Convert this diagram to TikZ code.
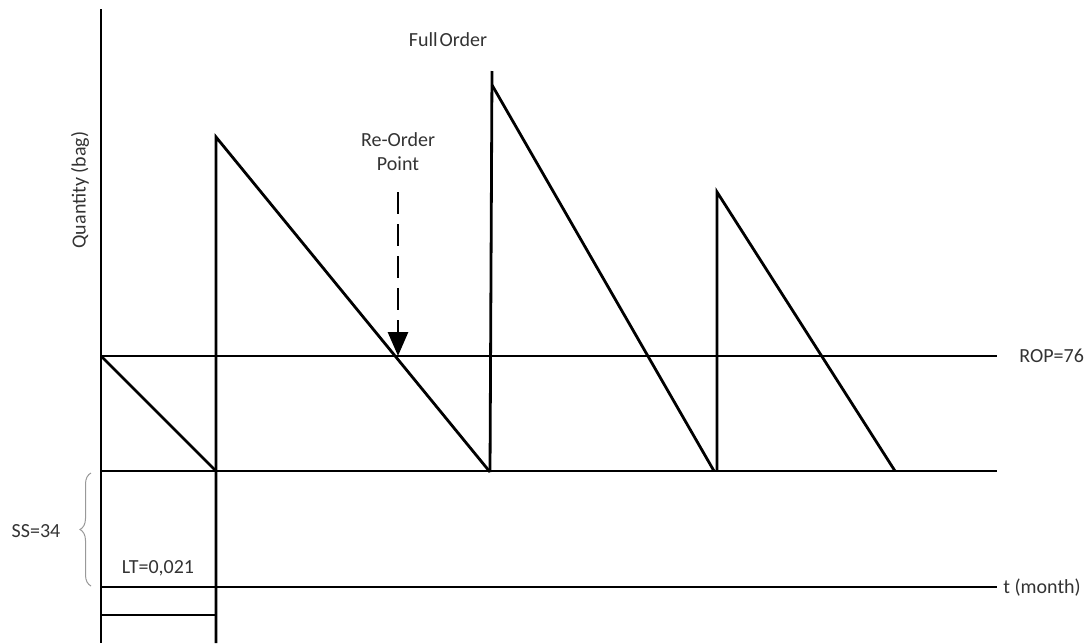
\documentclass[tikz,border=0pt]{standalone}
\usepackage{fontspec}
\setmainfont{Carlito}
\usetikzlibrary{arrows.meta,decorations.pathreplacing}

\begin{document}
\begin{tikzpicture}[x=0.5pt,y=-0.5pt,line width=1.4pt,
	lbl/.style={text=black!80,font=\fontsize{10}{12}\selectfont,inner sep=1pt}]
	\useasboundingbox (0,0) rectangle (1092,643);
	% axes and levels
	\coordinate (top) at (101,9);
	\coordinate (origin) at (101,643);
	\coordinate (rop0) at (101,356);
	\coordinate (rop1) at (997,356);
	\coordinate (ss0) at (101,471);
	\coordinate (ss1) at (997,471);
	\coordinate (t0) at (101,587);
	\coordinate (t1) at (997,587);
	\coordinate (lt0) at (101,615);
	\coordinate (lt1) at (216,615);
	\draw (top) -- (origin);
	\draw (rop0) -- (rop1);
	\draw (ss0) -- (ss1);
	\draw (t0) -- (t1);
	\draw (lt0) -- (lt1);
	% saw teeth
	\coordinate (a) at (216,471);
	\coordinate (ap) at (216,137);
	\coordinate (b) at (490,472);
	\coordinate (bt) at (492,71);
	\coordinate (bp) at (492,85);
	\coordinate (c) at (714,471);
	\coordinate (cp) at (717,192);
	\coordinate (cb) at (717,471);
	\coordinate (d) at (895,471);
	\draw (rop0) -- (a);
	\draw (216,643) -- (ap) -- (b);
	\draw (b) -- (bt);
	\draw (bp) -- (c);
	\draw (cb) -- (cp) -- (d);
	% re-order point
	\node[lbl,align=center] (reorder) at (398,152) {Re-Order\\Point};
	\coordinate (hit) at (398,356);
	\draw[-{Triangle[length=12pt,width=10pt]},dash pattern=on 11pt off 5pt] (398,192) -- (hit);
	\node[lbl] (full) at (448,40) {Full\hspace{1pt}Order};
	\node[lbl,anchor=west] (roplbl) at (1016,356) {ROP=76};
	\node[lbl,anchor=west] (tlbl) at (1000,588) {t (month)};
	\node[lbl,rotate=90] (qty) at (80,190) {Quantity (bag)};
	\node[lbl] (lt) at (158,568) {LT=0,021};
	\node[lbl] (ss) at (36,531) {SS=34};
	\draw[decorate,decoration={brace,amplitude=5.5pt},black!40,line width=0.5pt] (91,586) -- (91,473);
\end{tikzpicture}
\end{document}
